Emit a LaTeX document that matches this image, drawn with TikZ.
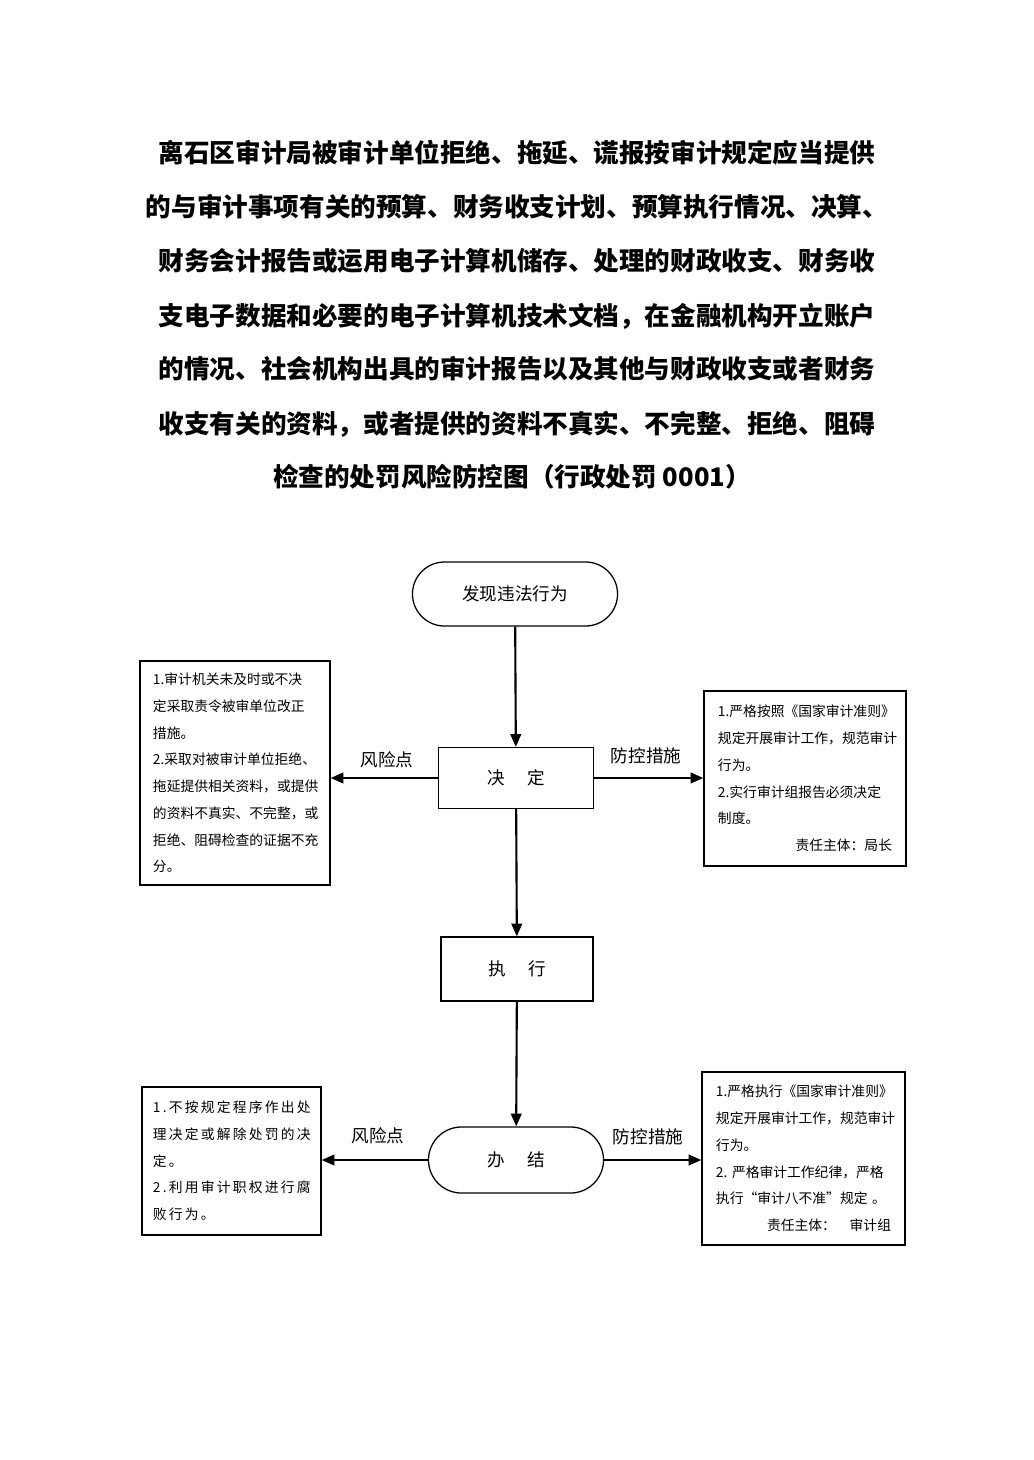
\documentclass[tikz,border=0pt]{standalone}
\usepackage{fontspec}
\setmainfont{Noto Sans CJK SC}
\usetikzlibrary{arrows.meta,shapes.misc}

\begin{document}
\begin{tikzpicture}[x=0.025cm, y=-0.025cm,
		title/.style={font=\fontsize{18.2}{20}\selectfont\bfseries},
		proc/.style={draw, line width=0.9pt, inner sep=0pt, font=\fontsize{12.5}{15}\selectfont},
		term/.style={proc, rounded rectangle},
		note/.style={draw, line width=0.9pt, align=left, inner ysep=0pt, font=\fontsize{9.8}{19}\selectfont},
		lab/.style={font=\fontsize{12.5}{15}\selectfont},
		link/.style={line width=1.5pt, -{Triangle[length=9pt,width=7.5pt]}}]
			\useasboundingbox (0,0) rectangle (1033,1460);

			\node[title] (T1) at (517,153) {离石区审计局被审计单位拒绝、拖延、谎报按审计规定应当提供};
			\node[title] (T2) at (517,207) {的与审计事项有关的预算、财务收支计划、预算执行情况、决算、};
			\node[title] (T3) at (517,261) {财务会计报告或运用电子计算机储存、处理的财政收支、财务收};
			\node[title] (T4) at (517,316) {支电子数据和必要的电子计算机技术文档，在金融机构开立账户};
			\node[title] (T5) at (517,369) {的情况、社会机构出具的审计报告以及其他与财政收支或者财务};
			\node[title] (T6) at (517,424) {收支有关的资料，或者提供的资料不真实、不完整、拒绝、阻碍};
			\node[title] (T7) at (512,477) {检查的处罚风险防控图（行政处罚 0001）};

			\node[term, minimum width=5.125cm, minimum height=1.6cm] (Find) at (515,594) {发现违法行为};
			\node[proc, minimum width=3.875cm, minimum height=1.525cm] (Dec) at (516,778) {决\hspace{1.3em}定};
			\node[proc, minimum width=3.8cm, minimum height=1.6cm] (Exe) at (517,969) {执\hspace{1.3em}行};
			\node[term, minimum width=4.375cm, minimum height=1.65cm] (End) at (516,1160) {办\hspace{1.3em}结};

			\node[note, text width=4.1cm, inner xsep=0.325cm, minimum height=5.6cm] (RiskA) at (235,773) {
				1.审计机关未及时或不决\\
				定采取责令被审单位改正\\
				措施。\\
				2.采取对被审计单位拒绝、\\
				拖延提供相关资料，或提供\\
				的资料不真实、不完整，或\\
				拒绝、阻碍检查的证据不充\\
				分。};
			\node[note, text width=4.35cm, inner xsep=0.35cm, minimum height=4.375cm] (CtrlA) at (805,778.5) {
				1.严格按照《国家审计准则》\\
				规定开展审计工作，规范审计\\
				行为。\\
				2.实行审计组报告必须决定\\
				制度。\\
				\mbox{}\hfill 责任主体：局长};
			\node[note, text width=3.925cm, inner xsep=0.275cm, minimum height=3.7cm] (RiskB) at (231.5,1161) {\addfontfeature{LetterSpace=16}%
				1.不按规定程序作出处\\
				理决定或解除处罚的决\\
				定。\\
				2.利用审计职权进行腐\\
				败行为。};
			\node[note, text width=4.375cm, inner xsep=0.35cm, minimum height=4.325cm] (CtrlB) at (803.5,1158.5) {
				1.严格执行《国家审计准则》\\
				规定开展审计工作，规范审计\\
				行为。\\
				2.\ 严格审计工作纪律，严格\\
				执行“审计八不准”规定\ 。\\
				\mbox{}\hfill 责任主体：\quad 审计组};

			\node[lab] (LRiskA) at (387,760) {风险点};
			\node[lab] (LCtrlA) at (646,756) {防控措施};
			\node[lab] (LRiskB) at (378,1136) {风险点};
			\node[lab] (LCtrlB) at (648,1137) {防控措施};

			\draw[link] (Find)--(Dec);
			\draw[link] (Dec)--(Exe);
			\draw[link] (Exe)--(End);
			\draw[link] (Dec.west)--(Dec.west -| RiskA.east);
			\draw[link] (Dec.east)--(Dec.east -| CtrlA.west);
			\draw[link] (End.west)--(End.west -| RiskB.east);
			\draw[link] (End.east)--(End.east -| CtrlB.west);
		\end{tikzpicture}
\end{document}
